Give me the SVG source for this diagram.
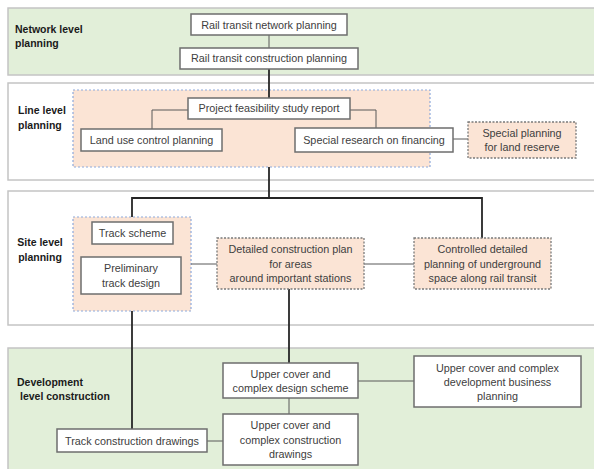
<svg xmlns="http://www.w3.org/2000/svg" width="594" height="469" viewBox="0 0 594 469">
<style>
.band{stroke:#c4c4c4;stroke-width:1.5}
.g{fill:#e2efd9}
.w{fill:#ffffff}
.cont{fill:#fbe4d5;stroke:#8ea9db;stroke-width:1.2;stroke-dasharray:2 2}
.node rect{fill:#ffffff;stroke:#6e6e6e;stroke-width:1.5}
.dn rect{fill:#fbe4d5;stroke:#7a7a7a;stroke-width:1.3;stroke-dasharray:2 1.5}
text{font-family:"Liberation Sans",Arial,sans-serif;font-size:10.8px;fill:#404040;text-anchor:middle}
.lab{font-weight:bold;fill:#1a1a1a;text-anchor:start;font-size:10.5px}
.thin{stroke:#595959;stroke-width:1;fill:none}
.thick{stroke:#262626;stroke-width:1.8;fill:none}
</style>
<g id="bands">
<rect class="band g" x="8" y="8" width="590" height="67"/>
<rect class="band w" x="8" y="83" width="590" height="97"/>
<rect class="band w" x="8" y="191" width="590" height="134"/>
<rect class="band g" x="8" y="348" width="590" height="130"/>
<text class="lab" x="15" y="33">Network level</text>
<text class="lab" x="15" y="47">planning</text>
<text class="lab" x="18" y="114">Line level</text>
<text class="lab" x="18" y="129">planning</text>
<text class="lab" x="40" y="246" style="text-anchor:middle">Site level</text>
<text class="lab" x="40" y="261" style="text-anchor:middle">planning</text>
<text class="lab" x="17" y="386">Development</text>
<text class="lab" x="20" y="400">level construction</text>
</g>
<g id="containers">
<rect class="cont" x="73" y="90" width="357" height="77"/>
<rect class="cont" x="73" y="217" width="118" height="94"/>
</g>
<g id="connectors">
<path class="thin" d="M269 35V48"/>
<path class="thick" d="M269 69V98"/>
<path class="thin" d="M188 110H152V129"/>
<path class="thin" d="M350 110H376V128"/>
<path class="thin" d="M453 139H468"/>
<path class="thick" d="M269 167V198"/>
<path class="thick" d="M132 217V198H482V238"/>
<path class="thin" d="M191 264H217"/>
<path class="thin" d="M364 264H414"/>
<path class="thick" d="M132 311V429"/>
<path class="thick" d="M289 289V363"/>
<path class="thin" d="M289 398V414"/>
<path class="thin" d="M358 381H414"/>
<path class="thin" d="M207 441H223"/>
</g>
<g id="n-network" class="node"><rect x="191" y="14" width="156" height="21"/><text x="269" y="28.5">Rail transit network planning</text></g>
<g id="n-construction" class="node"><rect x="180" y="48" width="178" height="21"/><text x="269" y="62">Rail transit construction planning</text></g>
<g id="n-feasibility" class="node"><rect x="188" y="98" width="162" height="21"/><text x="269" y="112">Project feasibility study report</text></g>
<g id="n-landuse" class="node"><rect x="81" y="129" width="141" height="22"/><text x="151.5" y="144">Land use control planning</text></g>
<g id="n-financing" class="node"><rect x="295" y="128" width="158" height="24"/><text x="374" y="144">Special research on financing</text></g>
<g id="n-landreserve" class="dn"><rect x="468" y="122" width="108" height="36"/><text x="522" y="137">Special planning</text><text x="522" y="151">for land reserve</text></g>
<g id="n-trackscheme" class="node"><rect x="92" y="222" width="81" height="22"/><text x="132.5" y="237">Track scheme</text></g>
<g id="n-preliminary" class="node"><rect x="81" y="257" width="100" height="37"/><text x="131" y="272">Preliminary</text><text x="131" y="287">track design</text></g>
<g id="n-detailed" class="dn"><rect x="217" y="238" width="147" height="51"/><text x="290.5" y="253">Detailed construction plan</text><text x="290.5" y="268">for areas</text><text x="290.5" y="282">around important stations</text></g>
<g id="n-controlled" class="dn"><rect x="414" y="238" width="137" height="51"/><text x="482.5" y="253">Controlled detailed</text><text x="482.5" y="268">planning of underground</text><text x="482.5" y="282">space along rail transit</text></g>
<g id="n-design" class="node"><rect x="223" y="363" width="135" height="35"/><text x="290.5" y="378">Upper cover and</text><text x="290.5" y="392">complex design scheme</text></g>
<g id="n-business" class="node"><rect x="414" y="356" width="167" height="51"/><text x="497.5" y="372">Upper cover and complex</text><text x="497.5" y="386">development business</text><text x="497.5" y="400">planning</text></g>
<g id="n-trackdrawings" class="node"><rect x="57" y="429" width="150" height="23"/><text x="132" y="445">Track construction drawings</text></g>
<g id="n-drawings" class="node"><rect x="223" y="414" width="135" height="51"/><text x="290.5" y="429">Upper cover and</text><text x="290.5" y="444">complex construction</text><text x="290.5" y="458">drawings</text></g>
</svg>
